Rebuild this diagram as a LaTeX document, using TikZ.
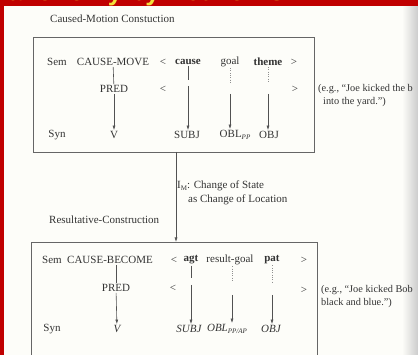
\documentclass[tikz,border=0pt]{standalone}
\usepackage{fontspec}
\setmainfont{Liberation Serif}
\newfontfamily\titlefont{Liberation Sans}
\usetikzlibrary{arrows.meta}
\definecolor{slidered}{HTML}{C00000}
\definecolor{ink}{HTML}{333333}
\definecolor{paper}{HTML}{FDFDF9}
\definecolor{titleyellow}{HTML}{F2E03A}
\begin{document}
\begin{tikzpicture}[x=1pt,y=-1pt,
  lbl/.style={text=ink,font=\fontsize{11}{13}\selectfont,inner sep=1pt},
  exl/.style={text=ink,font=\fontsize{10.3}{12}\selectfont,inner sep=1pt,anchor=west},
  bld/.style={lbl,font=\fontsize{11}{13}\selectfont\bfseries},
  itl/.style={lbl,font=\fontsize{11}{13}\selectfont\itshape},
  link/.style={draw=ink!85,line width=0.6pt},
  dotlink/.style={draw=ink!55,line width=0.6pt,dash pattern=on 1pt off 1.3pt},
  arr/.style={link,-{Latex[length=4.5pt,width=3pt]}},
  frame/.style={draw=ink!75,line width=0.8pt}]
\useasboundingbox (0,0) rectangle (418,355);
\fill[slidered] (0,0) rectangle (418,355);
\fill[paper] (4,6.5) rectangle (418,355);
\shade[left color=paper,right color=black!20] (402,6.5) rectangle (418,355);
\begin{scope}
\clip (0,0) rectangle (418,6.5);
\node[anchor=base west,inner sep=0pt,text=titleyellow,font=\titlefont\bfseries\fontsize{26}{28}\selectfont] (ttl) at (-6,1) {Taxonomy by Networks};
\end{scope}

% ---------- top construction ----------
\node[lbl,anchor=west] (capA) at (49,19) {Caused-Motion Constuction};
\draw[frame] (33,37) rectangle (314,152);

\node[lbl] (semA) at (57,62) {Sem};
\node[lbl] (cm) at (113,62) {CAUSE-MOVE};
\node[lbl] (ltA) at (163,62) {\textless};
\node[bld] (cause) at (188,62) {cause};
\node[lbl] (goal) at (230,62) {goal};
\node[bld] (theme) at (268,62) {theme};
\node[lbl] (gtA) at (294,62) {\textgreater};

\node[lbl] (predA) at (114,89) {PRED};
\node[lbl] (ltB) at (163,89) {\textless};
\node[lbl] (gtB) at (295,89) {\textgreater};

\node[lbl] (synA) at (57,135) {Syn};
\node[lbl] (vA) at (114,135) {V};
\node[lbl] (subjA) at (187,135) {SUBJ};
\node[lbl] (oblA) at (235,135) {OBL\raisebox{-2.2pt}{\fontsize{7}{8}\selectfont\itshape PP}};
\node[lbl] (objA) at (269,135) {OBJ};

\node[exl] (exA1) at (317,89) {(e.g., ``Joe kicked the b};
\node[exl] (exA2) at (322,102) {into the yard.'')};

\coordinate (causeA1) at (188,80);
\coordinate (causeA2) at (188,86);
\coordinate (goalA1) at (230,83);
\coordinate (goalA2) at (230,94);
\coordinate (themeA1) at (268,83);
\coordinate (themeA2) at (268,94);

\draw[link] (cm) -- (predA);
\draw[arr] (predA) -- (vA);
\draw[link] (cause) -- (causeA1);
\draw[arr] (causeA2) -- (subjA.north -| causeA2);
\draw[dotlink] (goal) -- (goalA1);
\draw[arr] (goalA2) -- (oblA.north -| goalA2);
\draw[dotlink] (theme) -- (themeA1);
\draw[arr] (themeA2) -- (objA.north -| themeA2);

% ---------- link ----------
\coordinate (linkTop) at (176,152);
\coordinate (linkBot) at (176,242);
\draw[arr] (linkTop) -- (linkBot);
\node[lbl,anchor=west] (imA) at (176,186) {I\raisebox{-2pt}{\fontsize{7}{8}\selectfont M}: Change of State};
\node[lbl,anchor=west] (imB) at (187,200) {as Change of Location};

% ---------- bottom construction ----------
\node[lbl,anchor=west] (capB) at (48,220) {Resultative-Construction};
\draw[frame] (31,356) -- (31,242) -- (317,242) -- (317,356);

\node[lbl] (semB) at (52,260) {Sem};
\node[lbl] (cbm) at (110,260) {CAUSE-BECOME};
\node[lbl] (ltC) at (174,260) {\textless};
\node[bld] (agt) at (191,260) {agt};
\node[lbl] (rg) at (230,260) {result-goal};
\node[bld] (pat) at (272,260) {pat};
\node[lbl] (gtC) at (304,260) {\textgreater};

\node[lbl] (predB) at (116,288) {PRED};
\node[lbl] (ltD) at (173,288) {\textless};
\node[lbl] (gtD) at (304,290) {\textgreater};

\node[lbl] (synB) at (52,329) {Syn};
\node[itl] (vB) at (117,329) {V};
\node[itl] (subjB) at (189,329) {SUBJ};
\node[itl] (oblB) at (227,329) {OBL\raisebox{-2.2pt}{\fontsize{7}{8}\selectfont\itshape PP/AP}};
\node[itl] (objB) at (271,329) {OBJ};

\node[exl] (exB1) at (320,290) {(e.g., ``Joe kicked Bob};
\node[exl] (exB2) at (320,303) {black and blue.'')};

\coordinate (agtB1) at (191,278);
\coordinate (agtB2) at (191,285);
\coordinate (rgB1) at (232,282);
\coordinate (rgB2) at (232,295);
\coordinate (patB1) at (272,282);
\coordinate (patB2) at (272,295);

\draw[link] (cbm.south -| predB) -- (predB);
\draw[arr] (predB) -- (vB);
\draw[link] (agt) -- (agtB1);
\draw[arr] (agtB2) -- (subjB.north -| agtB2);
\draw[dotlink] (rg.south -| rgB1) -- (rgB1);
\draw[arr] (rgB2) -- (oblB.north -| rgB2);
\draw[dotlink] (pat) -- (patB1);
\draw[arr] (patB2) -- (objB.north -| patB2);
\end{tikzpicture}
\end{document}
